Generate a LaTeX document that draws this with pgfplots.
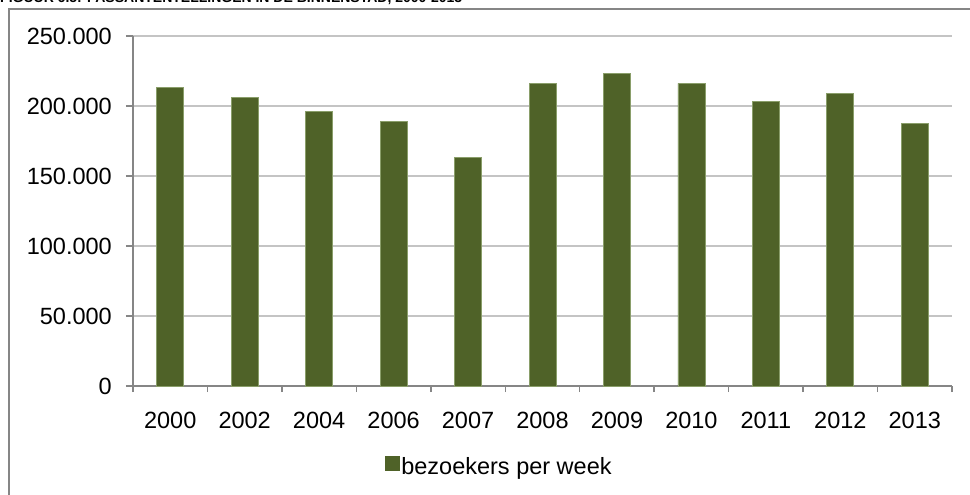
\documentclass[border=0pt]{standalone}
\usepackage{fontspec}
\setmainfont{Liberation Sans}
\usepackage{pgfplots}
\pgfplotsset{compat=1.18}
\definecolor{barcol}{HTML}{4F6228}
\definecolor{baredge}{HTML}{8A9E6A}
\definecolor{axgray}{HTML}{868686}
\definecolor{gridgray}{HTML}{C4C4C4}
\begin{document}
\begin{tikzpicture}
\useasboundingbox (0pt,0pt) rectangle (970pt,-495pt);
\draw[axgray, line width=1.5pt] (9pt,-9pt) rectangle (1000pt,-530pt);
\node[anchor=base west, inner sep=0pt, font=\bfseries\fontsize{14}{16}\selectfont] at (0pt,-3pt) {FIGUUR 6.5: PASSANTENTELLINGEN IN DE BINNENSTAD, 2000-2013};
\begin{axis}[
  at={(133pt,-386pt)}, anchor=south west,
  scale only axis, width=819pt, height=350pt,
  ybar, bar width=27pt,
  xmin=-0.5, xmax=10.5, ymin=0, ymax=250000,
  axis x line=bottom, axis y line=left,
  axis line style={-, draw=axgray, line width=1.5pt},
  ytick={0,50000,100000,150000,200000,250000},
  ymajorgrids, major grid style={gridgray, line width=1.2pt},
  scaled y ticks=false,
  /pgf/number format/fixed,
  /pgf/number format/1000 sep={.},
  /pgf/number format/assume math mode=true,
  yticklabel style={anchor=east, inner sep=0pt, xshift=-14pt},
  xticklabel style={anchor=north, inner sep=0pt, yshift=-19pt},
  tick label style={font=\fontsize{23.5}{28}\selectfont},
  tick align=outside, major tick length=7pt, minor tick length=6pt,
  tick style={axgray, line width=1.5pt},
  xtick={0,1,2,3,4,5,6,7,8,9,10},
  xticklabels={2000,2002,2004,2006,2007,2008,2009,2010,2011,2012,2013},
  minor xtick={-0.5,0.5,1.5,2.5,3.5,4.5,5.5,6.5,7.5,8.5,9.5,10.5},
  major x tick style={draw=none},
  legend style={at={(0.447,-0.2314)}, anchor=center, draw=none, fill=none,
    font=\fontsize{23.5}{28}\selectfont, inner sep=0pt},
  legend image code/.code={\fill[barcol] (0pt,-3pt) rectangle (14pt,11pt);},
]
\addplot[fill=barcol, draw=baredge, line width=0.8pt] coordinates {
(0,213300) (1,206200) (2,195900) (3,189100) (4,163500) (5,216200)
(6,223300) (7,216200) (8,203300) (9,209000) (10,187600)};
\legend{bezoekers per week}
\end{axis}
\end{tikzpicture}
\end{document}
